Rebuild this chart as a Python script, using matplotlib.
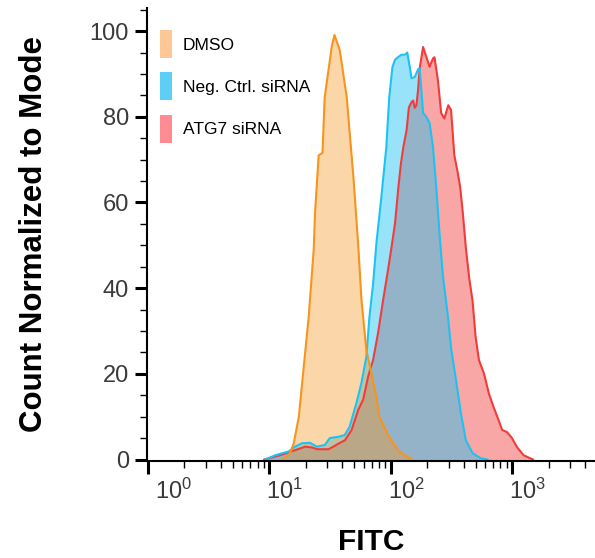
import matplotlib
matplotlib.use("Agg")
import matplotlib.pyplot as plt
from matplotlib.patches import Patch
from matplotlib.ticker import FixedLocator, LogLocator, MultipleLocator, NullFormatter
from matplotlib.transforms import ScaledTranslation
import numpy as np

plt.rcParams['font.family'] = ['Liberation Sans', 'DejaVu Sans']
plt.rcParams['mathtext.fontset'] = 'custom'
plt.rcParams['mathtext.rm'] = 'Liberation Sans'
plt.rcParams['mathtext.it'] = 'Liberation Sans:italic'
plt.rcParams['mathtext.bf'] = 'Liberation Sans:bold'

# Flow cytometry histograms: FITC intensity vs. count normalized to mode
dmso_fitc = [12.8, 14.8, 15.9, 17.5, 19.2, 21.1, 23.2, 23.8, 25.5, 27.4, 28.6, 32.7,
             34.4, 38.0, 43.4, 49.5, 54.3, 57.4, 63.0, 69.4, 76.2, 80.6, 94.9, 115.6, 148]
dmso_count = [0.0, 1.4, 3.8, 9.9, 21.5, 33.2, 48.9, 57.5, 71.0, 71.6, 84.6, 96.4,
              99.1, 95.6, 84.6, 65.2, 48.9, 37.2, 25.5, 20.1, 14.5, 9.9, 5.7, 2.0, 0.1]

neg_fitc = [9.3, 11.2, 14.5, 16.3, 18.6, 21.6, 24.7, 28.7, 31.5, 37.1, 41.7, 45.8,
            52.2, 57.4, 63.0, 66.7, 71.6, 76.2, 83.6, 91.9, 97.2, 103.2, 108.4, 115.6,
            122.8, 130.7, 136.7, 143.5, 148.1, 157.7, 168.0, 173.0, 184.5, 196.2, 208.8,
            222.5, 236.7, 251.9, 268.5, 295, 313.6, 344.5, 378.4, 415, 471, 550, 627]
neg_count = [0.0, 1.0, 1.9, 3.0, 3.8, 3.9, 3.0, 3.4, 5.0, 5.3, 5.7, 7.6,
             13.2, 17.9, 24.0, 33.2, 41.1, 50.5, 61.2, 72.9, 84.6, 91.6, 93.3, 94.0,
             94.5, 94.5, 95.0, 91.6, 89.0, 89.3, 91.1, 91.3, 80.9, 80.0, 78.5,
             73.0, 63.6, 52.8, 42.9, 33.6, 26.0, 18.5, 10.7, 4.5, 1.5, 0.3, 0.0]

atg7_fitc = [9.1, 12.3, 16.4, 19.8, 22.5, 24.7, 30.7, 33.7, 37.1, 42.0, 47.6, 54.0,
             59.3, 65.2, 71.6, 78.7, 86.5, 94.9, 101.9, 108.4, 115.6, 121.4, 126.9, 135,
             141, 148.1, 152.9, 157.5, 162.5, 167.8, 173, 184.5, 196.2, 208.8, 222.5, 229,
             244.3, 260, 276, 297.6, 313.6, 333.4, 355, 372.6, 390, 415, 441.6, 471,
             500, 532, 585, 642, 705, 774, 826, 906, 995, 1094, 1239, 1403, 1483]
atg7_count = [0.0, 1.0, 2.2, 3.0, 2.8, 2.4, 2.4, 3.0, 3.7, 4.5, 6.9, 11.6,
              14.0, 19.4, 23.3, 29.6, 37.2, 44.2, 49.9, 55.1, 63.6, 69.2, 72.9, 76.9,
              82.2, 83.4, 83.8, 82.1, 82.7, 86.2, 91.3, 96.3, 94.0, 91.7, 93.6, 93.9,
              88.6, 80.9, 79.6, 82.7, 81.6, 71.1, 67.1, 63.6, 58.2, 49.5, 42.5, 37.1,
              28.5, 23.2, 20.1, 15.4, 12.1, 9.1, 6.9, 6.4, 5.0, 2.9, 1.0, 0.3, 0.0]

series_labels = ["DMSO", "Neg. Ctrl. siRNA", "ATG7 siRNA"]
x_ticks = [1, 10, 100, 1000]
x_tick_labels = [r"$\mathregular{10^{0}}$", r"$\mathregular{10^{1}}$",
                 r"$\mathregular{10^{2}}$", r"$\mathregular{10^{3}}$"]
y_ticks = [0, 20, 40, 60, 80, 100]

line_colors = {"DMSO": "#F7941D", "Neg. Ctrl. siRNA": "#1CC3F2", "ATG7 siRNA": "#F23B3B"}
fill_alpha = {"DMSO": 0.38, "Neg. Ctrl. siRNA": 0.45, "ATG7 siRNA": 0.45}
legend_colors = {"DMSO": "#FDC796", "Neg. Ctrl. siRNA": "#5DCFF7", "ATG7 siRNA": "#FF8C92"}

fig = plt.figure(figsize=(5.95, 5.58), dpi=100)
ax = fig.add_axes([147 / 595, 97 / 558, 448 / 595, 453 / 558])

# bottom-most first so later fills tint the earlier outlines
draw_order = [("ATG7 siRNA", atg7_fitc, atg7_count),
              ("Neg. Ctrl. siRNA", neg_fitc, neg_count),
              ("DMSO", dmso_fitc, dmso_count)]
for name, xs, ys in draw_order:
    c = line_colors[name]
    ax.fill_between(xs, 0, ys, color=c, alpha=fill_alpha[name], linewidth=0)
    ax.plot(xs, ys, color=c, linewidth=1.5, solid_joinstyle='round')

ax.set_xscale('log')
ax.set_xlim(0.985, 4800)
ax.set_ylim(-0.35, 105.4)

ax.xaxis.set_major_locator(FixedLocator(x_ticks))
ax.xaxis.set_minor_locator(LogLocator(base=10, subs=np.arange(2, 10), numticks=20))
ax.xaxis.set_minor_formatter(NullFormatter())
ax.set_xticklabels(x_tick_labels)
ax.yaxis.set_major_locator(FixedLocator(y_ticks))
ax.yaxis.set_minor_locator(MultipleLocator(5))

for s in ("top", "right"):
    ax.spines[s].set_visible(False)
for s in ("left", "bottom"):
    ax.spines[s].set_linewidth(1.5)

ax.tick_params(axis='both', which='major', length=9, width=2.2, color='black')
ax.tick_params(axis='both', which='minor', length=5, width=1.0, color='black')
ax.tick_params(axis='y', which='major', labelsize=17, labelcolor='#3a3a3a', pad=4)
ax.tick_params(axis='x', which='major', labelsize=17, labelcolor='#3a3a3a', pad=4)

# x tick labels start at their tick; the first one sits clear of the y axis
offsets_px = [7, -3, -3, -3]
for lab, dx in zip(ax.get_xticklabels(), offsets_px):
    lab.set_ha('left')
    lab.set_transform(lab.get_transform() + ScaledTranslation(dx / 100, 0, fig.dpi_scale_trans))

ax.set_xlabel("FITC", fontsize=21.5, fontweight='bold')
ax.xaxis.set_label_coords(0.5, -0.148)
ax.set_ylabel("Count Normalized to Mode", fontsize=22.5, fontweight='bold')
ax.yaxis.set_label_coords(-0.219, 0.5)

handles = [Patch(facecolor=legend_colors[n], edgecolor='none') for n in series_labels]
ax.legend(handles, series_labels, loc='upper left', bbox_to_anchor=(0.029, 0.951),
          frameon=False, fontsize=12.5, handlelength=0.7, handleheight=2.1,
          handletextpad=0.63, labelspacing=0.82, borderpad=0, borderaxespad=0)

fig.savefig("out.png", dpi=100)
